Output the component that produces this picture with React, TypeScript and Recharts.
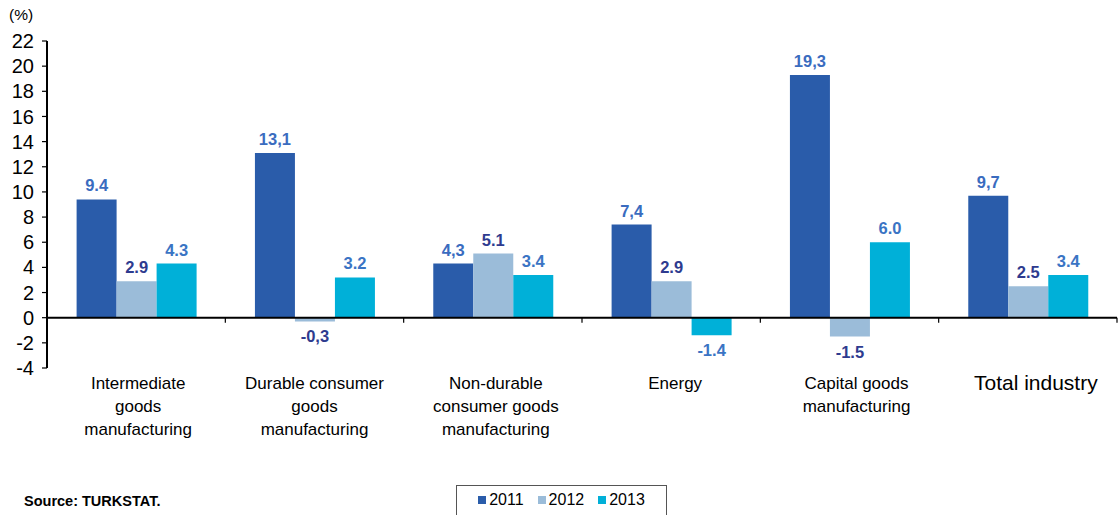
import React from "react";
import { BarChart, Bar, XAxis, YAxis, Legend, ReferenceLine } from "recharts";

const categories = [
  "Intermediate goods manufacturing",
  "Durable consumer goods manufacturing",
  "Non-durable consumer goods manufacturing",
  "Energy",
  "Capital goods manufacturing",
  "Total industry",
];
const categoryLines: string[][] = [
  ["Intermediate", "goods", "manufacturing"],
  ["Durable consumer", "goods", "manufacturing"],
  ["Non-durable", "consumer goods", "manufacturing"],
  ["Energy"],
  ["Capital goods", "manufacturing"],
  ["Total industry"],
];
const labelShift = [2, 0, 3, 4, 7, 8];
const values2011 = [9.4, 13.1, 4.3, 7.4, 19.3, 9.7];
const values2012 = [2.9, -0.3, 5.1, 2.9, -1.5, 2.5];
const values2013 = [4.3, 3.2, 3.4, -1.4, 6.0, 3.4];
const labels2011 = ["9.4", "13,1", "4,3", "7,4", "19,3", "9,7"];
const labels2012 = ["2.9", "-0,3", "5.1", "2.9", "-1.5", "2.5"];
const labels2013 = ["4.3", "3.2", "3.4", "-1.4", "6.0", "3.4"];
const yTicks = [-4, -2, 0, 2, 4, 6, 8, 10, 12, 14, 16, 18, 20, 22];

const FONT = "'Liberation Sans', Arial, Helvetica, sans-serif";
const C2011 = "#2a5caa";
const C2012 = "#9bbcd9";
const C2013 = "#00b0d8";

const data = categories.map((c, i) => ({
  name: c,
  y2011: values2011[i],
  y2012: values2012[i],
  y2013: values2013[i],
}));

const makeLabel = (labels: string[], color: string) => (props: any) => {
  const { x, y, width, height, index, value } = props;
  const top = Math.min(y, y + height);
  const bottom = Math.max(y, y + height);
  const neg = Number(value) < 0;
  const ty = neg ? bottom + 21 : top - 8;
  const txt = index !== undefined ? labels[index] : String(value);
  return (
    <text
      x={x + width / 2}
      y={ty}
      textAnchor="middle"
      fill={color}
      fontFamily={FONT}
      fontWeight="bold"
      fontSize={16.5}
    >
      {txt}
    </text>
  );
};

const XTick = (props: any) => {
  const { x, y, index } = props;
  const lines = categoryLines[index] || [];
  const big = index === categories.length - 1;
  const dx = labelShift[index] || 0;
  return (
    <g>
      {lines.map((l, i) => (
        <text
          key={i}
          x={x + dx}
          y={y + (big ? 22 : 21) + i * 23}
          textAnchor="middle"
          fill="#000"
          fontFamily={FONT}
          fontSize={big ? 21 : 17}
        >
          {l}
        </text>
      ))}
    </g>
  );
};

const ZeroLine = (props: any) => {
  const { x1, y1, x2, y2 } = props;
  const n = categories.length;
  const step = (x2 - x1) / n;
  const ticks = [];
  for (let i = 1; i <= n; i++) {
    const tx = x1 + step * i;
    ticks.push(<line key={i} x1={tx} y1={y1} x2={tx} y2={y1 + 5} stroke="#000" strokeWidth={1.2} />);
  }
  return (
    <g>
      <line x1={x1} y1={y1} x2={x2} y2={y2} stroke="#000" strokeWidth={2} />
      {ticks}
    </g>
  );
};

const LegendContent = () => {
  const items = [
    { label: "2011", color: C2011 },
    { label: "2012", color: C2012 },
    { label: "2013", color: C2013 },
  ];
  return (
    <div
      style={{
        boxSizing: "border-box",
        width: 211,
        height: 40,
        border: "1px solid #555",
        display: "flex",
        justifyContent: "center",
        alignItems: "flex-start",
        paddingTop: 5,
        fontFamily: FONT,
        fontSize: 16,
        color: "#000",
      }}
    >
      {items.map((it, i) => (
        <div key={i} style={{ display: "flex", alignItems: "center", marginRight: i < 2 ? 14 : 0 }}>
          <span style={{ display: "inline-block", width: 8, height: 8, background: it.color, marginRight: 3 }} />
          <span>{it.label}</span>
        </div>
      ))}
    </div>
  );
};

export default function App() {
  return (
    <div style={{ position: "absolute", left: 0, top: 0, width: 1119, height: 515, background: "#fff" }}>
      <BarChart
        width={1119}
        height={515}
        data={data}
        margin={{ top: 41, right: 2, bottom: 0, left: 0 }}
        barCategoryGap="16.6%"
        barGap={0}
      >
        <XAxis
          dataKey="name"
          axisLine={false}
          tickLine={false}
          tickSize={0}
          tickMargin={0}
          height={147}
          interval={0}
          tick={<XTick />}
        />
        <YAxis
          width={47}
          domain={[-4, 22]}
          ticks={yTicks}
          interval={0}
          axisLine={{ stroke: "#000", strokeWidth: 2 }}
          tickLine={{ stroke: "#000", strokeWidth: 1.2 }}
          tickSize={5}
          tickMargin={8}
          tick={{ fill: "#000", fontSize: 20, fontFamily: FONT }}
        />
        <Legend
          layout="horizontal"
          verticalAlign="middle"
          align="center"
          content={<LegendContent />}
          wrapperStyle={{ position: "absolute", left: 456, top: 485, width: 211, height: 40 }}
        />
        <Bar dataKey="y2011" name="2011" fill={C2011} isAnimationActive={false} label={makeLabel(labels2011, "#3a6cbf")} />
        <Bar dataKey="y2012" name="2012" fill={C2012} isAnimationActive={false} label={makeLabel(labels2012, "#2e3b8f")} />
        <Bar dataKey="y2013" name="2013" fill={C2013} isAnimationActive={false} label={makeLabel(labels2013, "#3a74c4")} />
        <ReferenceLine y={0} shape={<ZeroLine />} />
      </BarChart>
      <div
        style={{
          position: "absolute",
          left: 9,
          top: 6,
          fontFamily: FONT,
          fontSize: 15.5,
          color: "#000",
        }}
      >
        (%)
      </div>
      <div
        style={{
          position: "absolute",
          left: 24,
          top: 493,
          fontFamily: FONT,
          fontSize: 14.5,
          fontWeight: "bold",
          color: "#000",
        }}
      >
        Source: TURKSTAT.
      </div>
    </div>
  );
}
